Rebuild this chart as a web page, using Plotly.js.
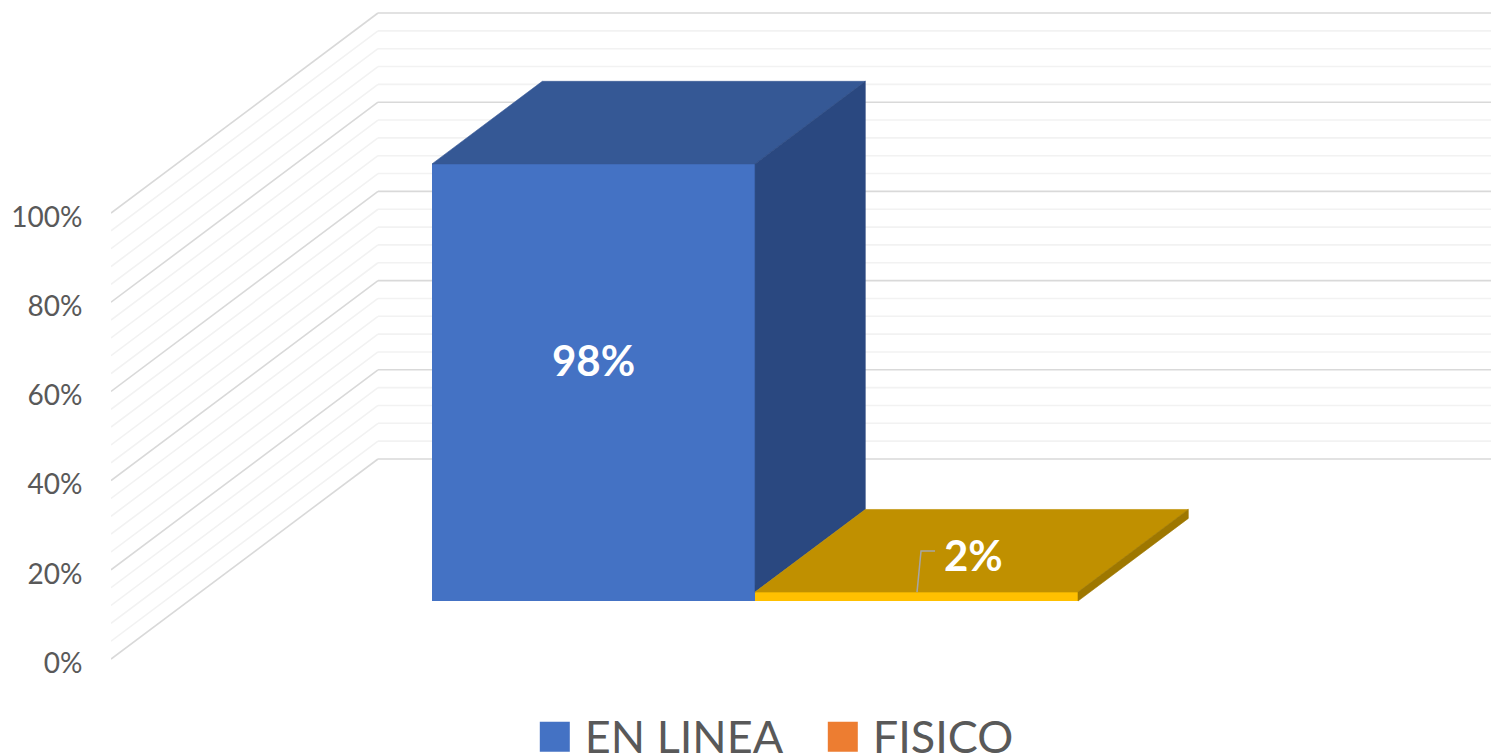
<!DOCTYPE html>
<html>
<head>
<meta charset="utf-8">
<script src="https://cdn.plot.ly/plotly-3.0.1.min.js"></script>
<style>html,body{margin:0;padding:0;background:#fff;overflow:hidden}#chart{width:1491px;height:756px}</style>
</head>
<body>
<div id="chart"></div>
<script>
// ---- data ----
var seriesNames = ['EN LINEA', 'FISICO'];
var seriesValues = [98, 2];
var seriesLabels = ['98%', '2%'];
var majorTicks = [0, 20, 40, 60, 80, 100];
var tickLabels = ['0%', '20%', '40%', '60%', '80%', '100%'];
var minorTicks = [4, 8, 12, 16, 24, 28, 32, 36, 44, 48, 52, 56, 64, 68, 72, 76, 84, 88, 92, 96];

// ---- styling ----
var frontColors = ['#4472C4', '#FFC000'];
var topColors = ['#355895', '#C09000'];
var sideColors = ['#2A4880', '#9E7700'];
var legendColors = ['#4472C4', '#ED7D31'];
var font = 'Lato, "Open Sans", sans-serif';

// ---- oblique projection of the 3D box onto the axes ----
var pxPerPct = 4.46;
var depthX = 267, depthY = 200 / pxPerPct;
function X(u, d) { return u + depthX * d; }
function Y(v, d) { return v + depthY * d; }
var wallWidth = 1134;
var barWidth = 323, barStart = 243.6, dFront = 0.29, dBack = 0.703;

var shapes = [];
function gridLine(v, color) {
  var line = {color: color, width: 1.6};
  shapes.push({type: 'line', layer: 'below', xref: 'x', yref: 'y', x0: X(0, 0), y0: Y(v, 0), x1: X(0, 1), y1: Y(v, 1), line: line});
  shapes.push({type: 'line', layer: 'below', xref: 'x', yref: 'y', x0: X(0, 1), y0: Y(v, 1), x1: X(wallWidth, 1), y1: Y(v, 1), line: line});
}
minorTicks.forEach(function (v) { gridLine(v, '#F2F2F2'); });
majorTicks.forEach(function (v) { gridLine(v, '#D9D9D9'); });

var traces = [];
seriesValues.forEach(function (val, i) {
  var u0 = barStart + i * barWidth, u1 = u0 + barWidth;
  // the next series stands in front of the lower part of this bar's side face
  var occluded = i + 1 < seriesValues.length ? seriesValues[i + 1] : 0;
  // front face: a real bar
  traces.push({
    type: 'bar', x: [X((u0 + u1) / 2, dFront)], y: [val], base: [Y(0, dFront)], width: [barWidth],
    marker: {color: frontColors[i], line: {width: 0}}, name: seriesNames[i],
    showlegend: i === 0, hoverinfo: 'skip'
  });
  // top face
  traces.push({
    type: 'scatter', mode: 'lines', fill: 'toself', fillcolor: topColors[i], line: {width: 0.6, color: topColors[i]},
    x: [X(u0, dFront), X(u1, dFront), X(u1, dBack), X(u0, dBack), X(u0, dFront)],
    y: [Y(val, dFront), Y(val, dFront), Y(val, dBack), Y(val, dBack), Y(val, dFront)],
    showlegend: false, hoverinfo: 'skip'
  });
  // side face
  traces.push({
    type: 'scatter', mode: 'lines', fill: 'toself', fillcolor: sideColors[i], line: {width: 0.6, color: sideColors[i]},
    x: [X(u1, dFront), X(u1, dBack), X(u1, dBack), X(u1, dFront), X(u1, dFront)],
    y: [Y(occluded, dFront), Y(occluded, dBack), Y(val, dBack), Y(val, dFront), Y(occluded, dFront)],
    showlegend: false, hoverinfo: 'skip'
  });
});
// legend entry for the second series (its legend colour differs from its bar colour)
traces.push({type: 'bar', x: [null], y: [null], name: seriesNames[1], marker: {color: legendColors[1]}, showlegend: true, hoverinfo: 'skip'});
// leader line of the small label
var leadU = barStart + barWidth + 162;
traces.push({
  type: 'scatter', mode: 'lines', line: {color: '#A6A6A6', width: 1.5},
  x: [X(leadU, dFront), X(leadU + 4, dFront), X(leadU + 18, dFront)],
  y: [Y(seriesValues[1], dFront), Y(seriesValues[1] + 9.2, dFront), Y(seriesValues[1] + 9.2, dFront)],
  showlegend: false, hoverinfo: 'skip'
});

var annotations = [
  {xref: 'x', yref: 'y', x: X(barStart + barWidth / 2, dFront), y: Y(seriesValues[0] * 0.5 + 5.1, dFront), text: seriesLabels[0],
   showarrow: false, font: {family: font, size: 42, color: '#fff', weight: 700}},
  {xref: 'x', yref: 'y', x: X(barStart + barWidth + 218, dFront), y: Y(seriesValues[1] + 8.3, dFront), text: seriesLabels[1],
   showarrow: false, font: {family: font, size: 42, color: '#fff', weight: 700}}
];

var layout = {
  width: 1491, height: 756,
  margin: {l: 111, r: 0, t: 0, b: 0, pad: 0},
  paper_bgcolor: '#fff', plot_bgcolor: '#fff',
  barmode: 'overlay', bargap: 0,
  xaxis: {range: [0, 1380], visible: false, fixedrange: true},
  yaxis: {
    range: [-97 / pxPerPct, 659 / pxPerPct], fixedrange: true, zeroline: false, showgrid: false, showline: false,
    tickmode: 'array', tickvals: majorTicks, ticktext: tickLabels,
    ticks: 'outside', ticklen: 22, tickcolor: 'rgba(0,0,0,0)', ticklabelshift: 4,
    tickfont: {family: font, size: 28, color: '#595959'}
  },
  shapes: shapes,
  annotations: annotations,
  showlegend: true,
  legend: {
    orientation: 'h', x: 0.31, xanchor: 'left', y: 0, yanchor: 'bottom',
    bgcolor: 'rgba(0,0,0,0)', font: {family: font, size: 45, color: '#595959'}, itemwidth: 40,
    entrywidth: 233, entrywidthmode: 'pixels', traceorder: 'normal', itemclick: false, itemdoubleclick: false
  }
};

Plotly.newPlot('chart', traces, layout, {displayModeBar: false, staticPlot: true}).then(function () {
  var legend = document.querySelector('#chart .legend');
  var m = /translate\(([-\d.]+),\s*([-\d.]+)\)/.exec(legend.getAttribute('transform'));
  legend.setAttribute('transform', 'translate(' + (parseFloat(m[1]) - 4) + ',' + (parseFloat(m[2]) + 16) + ')');
  document.querySelectorAll('#chart .legend .traces .legendpoints path').forEach(function (p) {
    p.setAttribute('d', 'M10,16H-20V-14H10Z');
  });
});
</script>
</body>
</html>
